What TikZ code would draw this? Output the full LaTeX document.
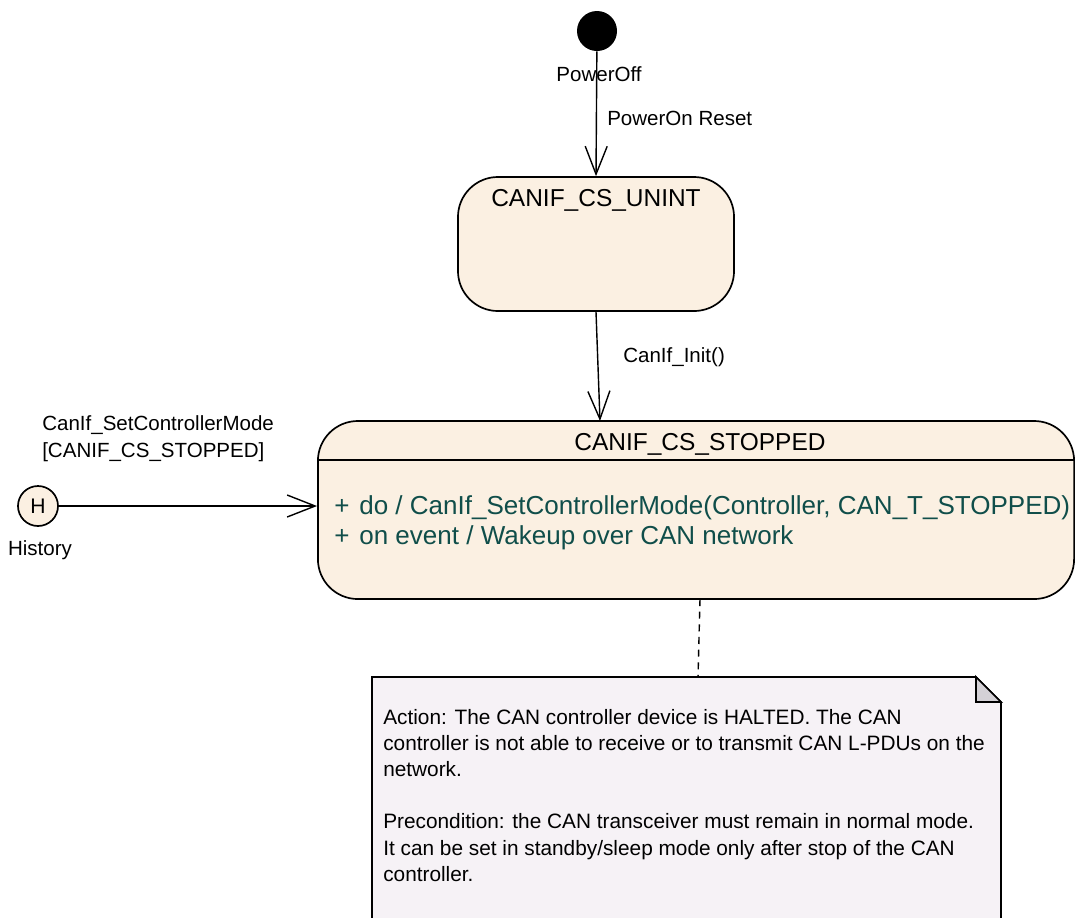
\documentclass[tikz,border=0pt]{standalone}
\usepackage{fontspec}
\setmainfont{Liberation Sans}
\usetikzlibrary{arrows.meta}

\definecolor{statefill}{RGB}{251,240,226}
\definecolor{notefill}{RGB}{246,242,246}
\definecolor{foldfill}{RGB}{212,209,214}
\definecolor{actiontext}{RGB}{16,78,74}

\begin{document}
\begin{tikzpicture}[x=0.025cm, y=-0.025cm,
		statebox/.style={draw, line width=1.2pt, fill=statefill, rounded corners=1cm},
		transarrow/.style={line width=1pt, -{Straight Barb[length=0.7cm, width=0.55cm, line width=1pt]}},
		edgelabel/.style={inner sep=0pt, font=\fontsize{14.6}{18}\selectfont},
		statetitle/.style={inner sep=0pt, font=\fontsize{17.4}{21}\selectfont},
		stateaction/.style={inner sep=0pt, text=actiontext, font=\fontsize{18.5}{22}\selectfont}]
		\useasboundingbox (0,0) rectangle (1075,917);
		% states
		\node (init) [circle, fill=black, minimum size=1cm, inner sep=0pt] at (597,31) {};
		\node (uninit) [statebox, minimum width=6.9cm, minimum height=3.35cm] at (596,244) {};
		\node (stopped) [statebox, minimum width=18.9cm, minimum height=4.45cm] at (696,510) {};
		\draw[line width=1.2pt] (318,460) -- (1074,460);
		\node (hist) [circle, draw, line width=1.2pt, fill=statefill, minimum size=1cm, inner sep=0pt, font=\fontsize{15}{18}\selectfont] at (38,506) {H};
		\coordinate (stoppedin) at (600,421);
		% texts
		\node (poweroff) [edgelabel, anchor=base] at (599,81) {PowerOff};
		\node (powerreset) [edgelabel, anchor=base west] at (607,125) {PowerOn Reset};
		\node (uninittitle) [statetitle, anchor=base] at (596,206) {CANIF\_CS\_UNINT};
		\node (initcall) [edgelabel, anchor=base west] at (623,362) {CanIf\_Init()};
		\node (histcall) [edgelabel, anchor=base west] at (42,430) {CanIf\_SetControllerMode};
		\node (histguard) [edgelabel, anchor=base west] at (42,457) {[CANIF\_CS\_STOPPED]};
		\node (histname) [edgelabel, anchor=base] at (40,555) {History};
		\node (stoppedtitle) [statetitle, anchor=base] at (700,450) {CANIF\_CS\_STOPPED};
		\node (plusdo) [stateaction, anchor=base] at (342,514) {+};
		\node (doaction) [stateaction, anchor=base west] at (359,514) {do / CanIf\_SetControllerMode(Controller, CAN\_T\_STOPPED)};
		\node (pluswake) [stateaction, anchor=base] at (342,544) {+};
		\node (wakeaction) [stateaction, anchor=base west] at (359,544) {on event / Wakeup over CAN network};
		% transitions
		\draw[transarrow] (init) -- (uninit.north);
		\draw[transarrow] (uninit.south) -- (stoppedin);
		\draw[transarrow] (hist) -- (hist -| stopped.west);
		% note
		\draw[line width=1.2pt, fill=notefill] (372,940) -- (372,677) -- (976,677) -- (1001,702) -- (1001,940) -- cycle;
		\draw[line width=1.2pt, fill=foldfill] (976,677) -- (976,702) -- (1001,702) -- cycle;
		\coordinate (stoppedlink) at (700,599);
		\coordinate (notelink) at (698,677);
		\draw[line width=1pt, dash pattern=on 5pt off 4pt] (stoppedlink) -- (notelink);
		\node (note) [anchor=base west, align=left, inner sep=0pt, font=\fontsize{14.8}{18.5}\selectfont] at (383,881) {Action: The CAN controller device is HALTED. The CAN\\controller is not able to receive or to transmit CAN L-PDUs on the\\network.\\[18.5pt]Precondition: the CAN transceiver must remain in normal mode.\\It can be set in standby/sleep mode only after stop of the CAN\\controller.};
	\end{tikzpicture}
\end{document}
